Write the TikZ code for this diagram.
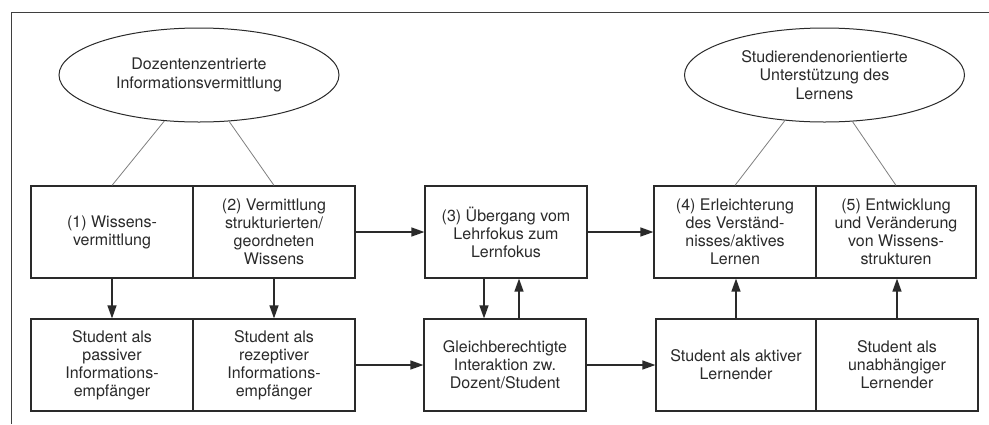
\documentclass[tikz,border=0pt]{standalone}
\usepackage{fontspec}
\setmainfont{TeX Gyre Heros}
\usetikzlibrary{arrows.meta,shapes.geometric}
\definecolor{ink}{HTML}{2A2A2A}
\definecolor{thin}{HTML}{808080}
\tikzset{
  stepbox/.style={draw=ink,line width=1.2pt,text=ink,align=center,minimum height=92pt,inner sep=2pt,
    font=\fontsize{16pt}{18pt}\selectfont},
  oval/.style={ellipse,draw=ink,line width=1pt,text=ink,align=center,minimum width=280pt,minimum height=94pt,inner sep=0pt,
    font=\fontsize{16pt}{18.5pt}\selectfont},
  arr/.style={draw=ink,line width=1.3pt,-{Triangle[length=13pt,width=9pt]}},
  link/.style={draw=thin,line width=0.8pt}
}
\begin{document}
\begin{tikzpicture}[x=1pt,y=-1pt]
\useasboundingbox (0,0) rectangle (989,424);
\fill[white] (0,0) rectangle (989,424);
\coordinate (fa) at (11,424);
\coordinate (fb) at (11,12);
\coordinate (fc) at (989,12);
\draw[draw=ink!90,line width=1pt] (fa) -- (fb) -- (fc);

\node[oval] (e1) at (199,75) {Dozentenzentrierte\\Informationsvermittlung};
\node[oval] (e2) at (824.5,75) {Studierendenorientierte\\Unterstützung des\\Lernens};

\node[stepbox,minimum width=162pt] (t1) at (112,232) {(1) Wissens-\\vermittlung};
\node[stepbox,minimum width=162pt] (t2) at (274,232) {(2) Vermittlung\\strukturierten/\\geordneten\\Wissens};
\node[stepbox,minimum width=162pt] (t3) at (506,232) {(3) Übergang vom\\Lehrfokus zum\\Lernfokus};
\node[stepbox,minimum width=162pt] (t4) at (735,232) {(4) Erleichterung\\des Verständ-\\nisses/aktives\\Lernen};
\node[stepbox,minimum width=160pt] (t5) at (896,232) {(5) Entwicklung\\und Veränderung\\von Wissens-\\strukturen};

\node[stepbox,minimum width=162pt] (b1) at (112,365) {Student als\\passiver\\Informations-\\empfänger};
\node[stepbox,minimum width=162pt] (b2) at (274,365) {Student als\\rezeptiver\\Informations-\\empfänger};
\node[stepbox,minimum width=162pt] (b3) at (505,365) {Gleichberechtigte\\Interaktion zw.\\Dozent/Student};
\node[stepbox,minimum width=160pt] (b4) at (736,365) {Student als aktiver\\Lernender};
\node[stepbox,minimum width=162pt] (b5) at (897,365) {Student als\\unabhängiger\\Lernender};

\draw[link] (e1.233) -- (t1.north);
\draw[link] (e1.303) -- (t2.north);
\draw[link] (e2.229) -- (t4.north);
\draw[link] (e2.301) -- (t5.north);

\draw[arr] (t1.south) -- (b1.north);
\draw[arr] (t2.south) -- (b2.north);
\draw[arr] (t2.east) -- (t3.west);
\draw[arr] (t3.east) -- (t4.west);
\draw[arr] ([xshift=-22pt]t3.south) -- ([xshift=-22pt]t3.south |- b3.north);
\draw[arr] ([xshift=14pt]b3.north) -- ([xshift=14pt]b3.north |- t3.south);
\draw[arr] (b2.east) -- (b3.west);
\draw[arr] (b3.east) -- (b4.west);
\draw[arr] (b4.north) -- (b4.north |- t4.south);
\draw[arr] (b5.north) -- (b5.north |- t5.south);
\end{tikzpicture}
\end{document}
